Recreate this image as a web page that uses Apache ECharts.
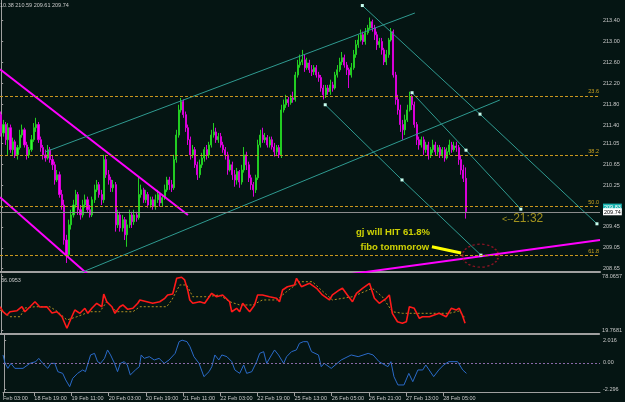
<!DOCTYPE html>
<html><head><meta charset="utf-8">
<script src="https://cdn.jsdelivr.net/npm/echarts@6/dist/echarts.min.js"></script>
<style>html,body{margin:0;padding:0;background:#051513;}#c{width:625px;height:402px;}</style>
</head><body><div id="c"></div>
<script>
// ---------- DATA ----------
const N_SLOTS = 257; // hourly slots across the visible time axis
const ohlcHeader = '10.38 210.59 209.61 209.74';
const rsiHeader = '36.0953';
// [open, close, low, high] per hourly bar
const candles = [
[211.60,211.25,211.18,211.66],[211.25,211.41,211.18,211.50],[211.41,211.12,211.02,211.46],[211.12,211.35,210.83,211.44],[211.35,210.93,210.87,211.41],[210.93,211.08,210.83,211.16],[211.08,210.83,210.77,211.12],[210.83,210.97,210.74,211.02],[210.97,211.21,210.93,211.31],[211.21,211.31,211.16,211.41],
[211.31,211.02,210.97,211.35],[211.02,210.83,210.74,211.08],[210.83,210.93,210.77,210.98],[210.93,211.12,210.89,211.21],[211.12,211.35,211.08,211.44],[211.35,211.41,211.27,211.54],[211.41,211.12,211.06,211.46],[211.12,210.97,210.89,211.18],[210.97,210.83,210.74,211.02],[210.83,210.77,210.70,210.93],
[210.77,210.93,210.74,211.02],[210.93,210.74,210.68,210.98],[210.74,210.64,210.54,210.83],[210.64,210.35,210.26,210.70],[210.35,210.45,210.31,210.54],[210.45,210.07,210.01,210.51],[210.07,209.87,209.78,210.16],[209.87,209.20,209.11,209.97],[209.20,208.92,208.76,209.30],[208.92,209.49,208.86,209.59],
[209.49,209.68,209.40,209.78],[209.68,209.87,209.63,209.97],[209.87,210.07,209.82,210.16],[210.07,209.78,209.68,210.12],[209.78,209.68,209.59,209.87],[209.68,209.87,209.63,209.97],[209.87,209.97,209.82,210.07],[209.97,209.78,209.72,210.03],[209.78,209.68,209.63,209.87],[209.68,209.97,209.64,210.03],
[209.97,210.16,209.91,210.26],[210.16,210.26,210.12,210.35],[210.26,210.07,210.01,210.31],[210.07,209.97,209.87,210.16],[209.97,210.74,209.91,210.83],[210.74,210.45,210.39,210.83],[210.45,210.35,210.26,210.54],[210.35,210.20,210.12,210.41],[210.20,210.26,210.12,210.35],[210.26,209.49,209.36,210.31],
[209.49,209.68,209.43,209.78],[209.68,209.43,209.36,209.74],[209.43,209.59,209.36,209.68],[209.59,209.30,209.20,209.64],[209.30,209.49,209.07,209.59],[209.49,209.68,209.43,209.78],[209.68,209.55,209.43,209.74],[209.55,209.68,209.49,209.78],[209.68,209.63,209.55,209.74],[209.63,210.07,209.59,210.41],
[210.07,210.16,210.01,210.26],[210.16,209.97,209.91,210.20],[209.97,210.07,209.91,210.16],[210.07,209.87,209.82,210.12],[209.87,209.97,209.82,210.03],[209.97,209.84,209.78,210.03],[209.84,209.97,209.78,210.07],[209.97,210.07,209.91,210.16],[210.07,209.91,209.84,210.12],[209.91,210.01,209.84,210.07],
[210.01,210.16,209.97,210.26],[210.16,210.35,210.12,210.41],[210.35,210.26,210.16,210.41],[210.26,210.20,210.12,210.35],[210.20,210.74,210.16,210.83],[210.74,211.21,210.68,211.31],[211.21,211.69,211.16,211.79],[211.69,211.85,211.64,211.92],[211.85,211.60,211.54,211.89],[211.60,211.35,211.27,211.66],
[211.35,211.12,211.02,211.41],[211.12,210.83,210.74,211.18],[210.83,210.93,210.77,211.02],[210.93,210.64,210.58,210.98],[210.64,210.45,210.35,210.70],[210.45,210.64,210.39,210.74],[210.64,210.77,210.58,210.87],[210.77,210.93,210.70,210.98],[210.93,210.83,210.74,211.02],[210.83,211.02,210.77,211.08],
[211.02,211.21,210.97,211.31],[211.21,211.27,211.16,211.44],[211.27,211.12,211.06,211.35],[211.12,211.18,211.06,211.25],[211.18,211.02,210.97,211.25],[211.02,210.93,210.87,211.08],[210.93,210.83,210.74,210.98],[210.83,210.54,210.45,210.89],[210.54,210.64,210.51,210.74],[210.64,210.45,210.35,210.70],
[210.45,210.35,210.22,210.54],[210.35,210.51,210.26,210.58],[210.51,210.31,210.20,210.54],[210.31,210.54,210.26,210.64],[210.54,210.83,210.49,210.98],[210.83,210.64,210.54,210.89],[210.64,210.39,210.31,210.70],[210.39,210.26,210.16,210.45],[210.26,210.16,210.03,210.31],[210.16,210.39,210.10,210.45],
[210.39,211.02,210.35,211.12],[211.02,211.21,210.97,211.31],[211.21,211.12,211.06,211.35],[211.12,211.16,211.06,211.25],[211.16,211.02,210.97,211.21],[211.02,211.12,210.97,211.18],[211.12,210.98,210.93,211.18],[210.98,210.89,210.80,211.06],[210.89,210.97,210.83,211.02],[210.97,210.83,210.77,211.02],
[210.83,211.69,210.77,211.79],[211.69,211.79,211.64,211.89],[211.79,211.89,211.73,211.98],[211.89,211.83,211.75,211.94],[211.83,211.92,211.79,211.98],[211.92,211.89,211.83,212.04],[211.89,212.36,211.85,212.42],[212.36,212.55,212.31,212.65],[212.55,212.61,212.50,212.75],[212.61,212.65,212.55,212.84],
[212.65,212.50,212.42,212.75],[212.50,212.59,212.46,212.69],[212.59,212.46,212.40,212.65],[212.46,212.42,212.34,212.55],[212.42,212.50,212.36,212.55],[212.50,212.36,212.31,212.55],[212.36,212.31,212.23,212.42],[212.31,212.11,212.04,212.36],[212.11,211.98,211.89,212.17],[211.98,212.11,211.92,212.17],
[212.11,212.04,211.98,212.17],[212.04,212.17,211.98,212.27],[212.17,212.11,212.04,212.23],[212.11,212.36,212.08,212.42],[212.36,212.46,212.31,212.55],[212.46,212.61,212.42,212.69],[212.61,212.69,212.55,212.80],[212.69,212.55,212.50,212.75],[212.55,212.46,212.36,212.61],[212.46,212.36,212.11,212.50],
[212.36,212.50,212.31,212.59],[212.50,212.75,212.46,212.84],[212.75,212.94,212.69,213.03],[212.94,213.03,212.88,213.13],[213.03,213.13,213.00,213.23],[213.13,213.00,212.94,213.19],[213.00,213.17,212.94,213.26],[213.17,213.26,213.13,213.32],[213.26,213.38,213.23,213.46],[213.38,213.26,213.19,213.42],
[213.26,213.13,213.03,213.32],[213.13,212.94,212.84,213.19],[212.94,213.00,212.88,213.07],[213.00,212.84,212.75,213.07],[212.84,212.61,212.55,212.88],[212.61,212.75,212.55,212.84],[212.75,213.03,212.69,213.07],[213.03,213.19,213.00,213.26],[213.19,212.36,212.31,213.23],[212.36,211.89,211.79,212.42],
[211.89,211.69,211.60,211.98],[211.69,211.41,211.27,211.79],[211.41,211.31,211.12,211.50],[211.31,211.50,211.21,211.60],[211.50,211.69,211.46,211.79],[211.69,211.94,211.66,212.04],[211.94,211.79,211.69,211.98],[211.79,211.41,211.35,211.85],[211.41,211.12,211.02,211.46],[211.12,211.02,210.93,211.18],
[211.02,211.12,210.97,211.18],[211.12,210.93,210.83,211.18],[210.93,211.02,210.87,211.08],[211.02,210.83,210.74,211.08],[210.83,210.93,210.77,210.98],[210.93,211.02,210.87,211.12],[211.02,210.89,210.83,211.08],[210.89,210.97,210.83,211.02],[210.97,210.83,210.77,211.02],[210.83,210.93,210.77,210.98],
[210.93,210.77,210.70,210.98],[210.77,210.89,210.74,210.97],[210.89,211.02,210.83,211.12],[211.02,210.93,210.87,211.08],[210.93,211.00,210.89,211.08],[211.00,210.97,210.89,211.08],[210.97,210.74,210.64,211.02],[210.74,210.54,210.45,210.83],[210.54,210.38,210.31,210.64],[210.38,209.74,209.61,210.59]
];
// oscillator (red) and its dotted signal: [bar index, value]
const rsiLine = [[-0.5,44.9],[0.8,39.5],[2.5,35.9],[3.8,39.5],[6.8,40.6],[8.9,44.9],[10.2,39.5],[12.3,44.6],[14.5,50.3],[16.6,44.6],[19.6,44.9],[21.8,38.1],[23.9,39.5],[26.1,34.1],[28.2,21.6],[30.3,34.1],[31.6,41.4],[33.8,37.8],[35.9,43.2],[37.2,37.8],[38.9,43.2],[41.0,48.6],[43.2,44.9],[44.0,58.6],[45.3,50.3],[47.5,44.9],[48.8,37.8],[50.9,44.9],[52.2,46.8],[54.3,42.1],[56.5,43.2],[58.6,48.6],[59.5,52.2],[62.5,50.3],[65.0,48.6],[68.0,50.3],[70.2,54.0],[71.4,57.6],[73.6,58.6],[75.3,75.6],[77.4,76.7],[78.7,73.8],[80.0,63.0],[80.9,52.2],[82.2,48.6],[85.2,50.3],[87.3,48.6],[90.3,59.4],[92.4,55.7],[95.0,57.6],[98.0,50.3],[98.9,39.5],[101.0,43.2],[102.3,39.5],[103.6,48.6],[105.3,43.2],[106.6,39.5],[108.7,46.8],[110.0,57.6],[112.1,57.6],[115.1,55.7],[118.1,54.0],[119.4,50.3],[120.7,63.0],[122.8,66.5],[125.8,68.4],[126.7,75.6],[128.8,66.5],[132.3,70.2],[135.3,64.8],[137.8,57.6],[140.8,52.2],[142.1,57.6],[145.1,63.0],[146.4,64.8],[148.5,57.6],[150.7,50.3],[152.4,59.4],[155.0,64.8],[158.0,70.2],[160.1,54.0],[162.2,48.6],[165.2,54.0],[166.5,57.6],[167.8,37.8],[170.0,28.7],[172.1,27.0],[173.8,28.7],[175.1,44.9],[177.2,43.2],[179.4,32.4],[180.7,34.1],[183.7,34.1],[185.8,36.0],[187.9,37.8],[190.9,34.1],[193.1,43.2],[195.2,41.4],[196.5,43.2],[197.8,36.0],[199.0,27.0]];
const rsiSignal = [[-0.5,41.4],[3.8,34.1],[8.1,34.1],[10.2,43.5],[14.5,44.9],[20.9,44.9],[24.3,39.5],[28.2,30.6],[32.5,34.1],[38.0,39.5],[42.3,39.5],[45.3,50.3],[49.6,39.5],[56.5,39.5],[59.5,44.9],[71.0,44.9],[73.2,52.2],[76.6,68.4],[79.6,68.4],[82.2,55.7],[88.2,55.7],[93.7,57.6],[98.0,50.3],[102.3,46.8],[107.9,46.8],[112.1,52.2],[118.1,52.2],[122.4,61.1],[128.0,71.9],[133.5,71.9],[136.5,64.8],[142.1,52.2],[150.7,55.7],[159.2,64.8],[163.5,55.7],[167.8,39.5],[172.1,37.8],[178.1,37.8],[184.9,37.8],[192.2,37.8],[196.5,40.3],[199.0,32.7]];
// momentum (blue): [bar index, value]
const momentum = [[-0.5,0.70],[0.4,-0.03],[1.6,-0.48],[2.9,-0.04],[4.6,-0.48],[8.1,-0.48],[8.9,-0.56],[11.1,-0.04],[13.6,0.11],[14.9,0.40],[16.6,-0.04],[18.8,-0.48],[20.1,-0.04],[21.8,-0.04],[23.1,-0.77],[25.2,-0.92],[26.5,-1.50],[28.2,-2.09],[29.5,-1.36],[31.6,-0.92],[33.8,-0.62],[35.0,-0.77],[37.2,0.70],[38.9,0.84],[40.2,0.11],[41.5,-0.04],[43.2,0.40],[44.5,1.14],[45.8,0.70],[47.5,-0.04],[48.8,-0.77],[50.0,-0.04],[51.7,0.11],[53.0,-0.18],[54.3,-1.06],[56.5,-0.62],[58.2,-0.33],[59.0,0.70],[60.3,0.40],[62.5,0.55],[64.6,0.26],[66.7,0.40],[68.9,-0.04],[71.0,0.26],[73.6,0.84],[75.3,1.87],[76.6,2.00],[78.7,1.87],[80.0,1.43],[81.7,0.55],[83.9,-0.04],[86.0,-1.21],[88.2,-0.77],[89.4,-0.33],[90.7,0.70],[92.4,0.26],[93.7,0.70],[95.9,0.55],[98.0,0.11],[99.3,-0.62],[101.4,-0.92],[103.1,-0.18],[104.4,-0.92],[106.6,-0.77],[108.7,0.11],[110.0,0.84],[111.7,0.99],[113.0,-0.04],[115.1,0.70],[116.4,1.14],[118.1,0.70],[120.3,-0.04],[121.6,0.55],[123.7,0.99],[125.8,1.14],[127.1,1.72],[128.8,1.87],[130.6,1.87],[132.3,0.99],[135.3,0.70],[136.5,-0.33],[137.8,-0.04],[140.8,-0.48],[145.1,0.26],[149.4,0.70],[152.4,0.55],[156.7,0.84],[158.8,0.70],[161.4,0.11],[165.2,-0.33],[166.5,0.11],[167.8,-1.21],[169.5,-1.94],[172.1,-1.94],[174.2,-0.92],[175.9,-1.65],[178.1,-0.62],[180.2,-0.62],[181.5,-0.18],[184.9,-1.21],[187.1,-0.62],[189.2,-0.18],[191.4,0.11],[195.2,0.11],[197.4,-0.62],[199.0,-0.92]];
// axis ticks
const timeTicks = [[-0.5,'Feb 03:00'],[13,'18 Feb 19:00'],[29,'19 Feb 11:00'],[45,'20 Feb 03:00'],[61,'20 Feb 19:00'],[77,'21 Feb 11:00'],[93,'22 Feb 03:00'],[109,'22 Feb 19:00'],[125,'25 Feb 13:00'],[141,'26 Feb 05:00'],[157,'26 Feb 21:00'],[173,'27 Feb 13:00'],[189,'28 Feb 05:00']];
const priceTicks = [213.40,213.00,212.60,212.20,211.80,211.40,211.05,210.65,210.25,209.83,209.74,209.45,209.05,208.65];
const rsiTicks = [78.0657, 19.7681];
const momTicks = [2.016, 0, -2.296];
const momTickText = ['2.016','0.00','-2.296'];
const bidPrice = 209.74, askPrice = 209.83;
const fiboLevels = [['23.6',211.96],['38.2',210.82],['50.0',209.85],['61.8',208.91]];
// drawn objects, anchors as [bar index, price]
const magentaUpper = [[-0.5,212.47],[80.0,209.68]];
const magentaLower = [[-0.5,210.02],[40.2,208.42]];
const magentaSupport = [[148.5,208.54],[256.5,209.20]];
const channelUpper = [[18.8,210.885],[177.2,213.547]];
const channelLower = [[33.8,208.567],[213.6,211.881]];
const pitchA = [[154.7,213.69],[205.1,211.61],[255.2,209.51]];
const pitchB = [[138.8,211.79],[171.7,210.35],[205.5,208.91]];
const pitchC = [[176.0,212.02],[199.1,210.92],[222.6,209.79]];
const noteLines = [['gj will HIT 61.8%',152.0,209.35],['fibo tommorow',153.9,209.06]];
const timerNote = ['<--','21:32',214.5,209.60];
const arrowFrom = [184.5,209.07], arrowTo = [197.0,208.95];
const targetCircle = [205.3,208.90];

// ---------- CHART ----------
const FONT = '"Liberation Sans", Arial, sans-serif';
const AX = '#a0a0a0', TXT = '#c8c8c8';
const slots = Array.from({length: N_SLOTS}, (_, i) => i);
const chart = echarts.init(document.getElementById('c'));
function hiddenX(g){return {type:'value',gridIndex:g,min:-0.5,max:N_SLOTS-0.5,splitLine:{show:false},axisLabel:{show:false},axisTick:{show:false},axisLine:{show:false,onZero:false}};}
function trend(data,color,width,dots){
  return {type:'line',xAxisIndex:1,yAxisIndex:0,data:data,silent:true,z:4,
    symbol:dots?'rect':'none',symbolSize:3,showSymbol:!!dots,showAllSymbol:true,
    itemStyle:{color:'#c8fff0'},lineStyle:{color:color,width:width}};
}
const option = {
  backgroundColor:'#051513',
  animation:false,
  textStyle:{fontFamily:FONT},
  title:[
    {text:ohlcHeader,left:0,top:2,padding:0,textStyle:{fontSize:5.5,color:TXT,fontWeight:'normal',fontFamily:FONT}},
    {text:rsiHeader,left:1,top:277,padding:0,textStyle:{fontSize:5.5,color:TXT,fontWeight:'normal',fontFamily:FONT}}
  ],
  grid:[
    {left:0,right:25,top:0,height:272},
    {left:0,right:25,top:274,height:60},
    {left:0,right:25,top:335,height:57}
  ],
  xAxis:[
    {type:'category',gridIndex:0,data:slots,boundaryGap:true,axisLabel:{show:false},axisTick:{show:false},
     axisLine:{show:true,onZero:false,lineStyle:{color:AX,width:2}}},
    hiddenX(0),
    Object.assign(hiddenX(1),{axisLine:{show:true,onZero:false,lineStyle:{color:AX,width:2}}}),
    Object.assign(hiddenX(2),{
      axisLine:{show:true,onZero:false,lineStyle:{color:AX,width:1}},
      axisTick:{show:true,length:4,inside:false,customValues:timeTicks.map(t=>t[0]),lineStyle:{color:AX}},
      axisLabel:{show:true,customValues:timeTicks.map(t=>t[0]),align:'left',margin:3,fontSize:5.5,color:TXT,
        formatter:v=>{const t=timeTicks.find(t=>Math.abs(t[0]-v)<1e-6);return t?t[1]:'';}}
    })
  ],
  yAxis:[
    {type:'value',gridIndex:0,position:'right',min:208.587,max:213.796,splitLine:{show:false},
     axisLine:{show:true,lineStyle:{color:AX}},
     axisTick:{show:true,length:2,customValues:priceTicks,lineStyle:{color:AX}},
     axisLabel:{customValues:priceTicks,fontSize:5.5,color:TXT,margin:3,
       formatter:v=>{const s=v.toFixed(2);if(Math.abs(v-askPrice)<1e-6)return '{ask|'+s+'}';if(Math.abs(v-bidPrice)<1e-6)return '{bid|'+s+'}';return s;},
       rich:{ask:{backgroundColor:'#19b4b0',color:'#ffffff',fontSize:5.5,padding:[1,1,0,1]},
             bid:{backgroundColor:'#ffffff',color:'#000000',fontSize:5.5,padding:[1,1,0,1]}}}},
    {type:'value',gridIndex:1,position:'right',min:15.45,max:80.23,splitLine:{show:false},
     axisLine:{show:true,lineStyle:{color:AX}},
     axisTick:{show:true,length:2,customValues:rsiTicks,lineStyle:{color:AX}},
     axisLabel:{customValues:rsiTicks,fontSize:5.5,color:TXT,margin:3,formatter:v=>v.toFixed(4)}},
    {type:'value',gridIndex:2,position:'right',min:-2.56,max:2.456,splitLine:{show:false},
     axisLine:{show:true,lineStyle:{color:AX}},
     axisTick:{show:true,length:2,customValues:momTicks,lineStyle:{color:AX}},
     axisLabel:{customValues:momTicks,fontSize:5.5,color:TXT,margin:3,
       formatter:v=>{const k=momTicks.findIndex(t=>Math.abs(t-v)<1e-6);return k>=0?momTickText[k]:'';}}}
  ],
  series:[
    {type:'line',xAxisIndex:1,yAxisIndex:0,data:[],silent:true,
     markLine:{symbol:'none',silent:true,animation:false,
       data:fiboLevels.map(f=>({name:f[0],yAxis:f[1],lineStyle:{color:'#c8961e',type:[3,2],width:1},
         label:{show:true,formatter:'{b}',position:'insideEndTop',distance:1,color:'#c8a020',fontSize:5.5}}))
         .concat([{name:'bid',yAxis:bidPrice,lineStyle:{color:'#8c8c8c',type:'solid',width:1},label:{show:false}}])}},
    {type:'candlestick',xAxisIndex:0,yAxisIndex:0,data:candles,barWidth:1.6,z:2,
     itemStyle:{color:'#33ff33',color0:'#ff00ff',borderColor:'#22cc22',borderColor0:'#d800d8',borderWidth:1}},
    trend(magentaUpper,'#ff00ff',2,false),
    trend(magentaLower,'#ff00ff',2,false),
    trend(magentaSupport,'#ff00ff',2,false),
    trend(channelUpper,'#2f9a90',1,false),
    trend(channelLower,'#2f9a90',1,false),
    trend(pitchA,'#2f9a90',1,true),
    trend(pitchB,'#2f9a90',1,true),
    trend(pitchC,'#2f9a90',1,true),
    {type:'scatter',xAxisIndex:1,yAxisIndex:0,silent:true,z:6,symbol:'path://M0,50 A50,50 0 1 0 100,50 A50,50 0 1 0 0,50 Z',
     symbolSize:[36,23],data:[targetCircle],
     itemStyle:{color:'rgba(0,0,0,0)',borderColor:'#b01428',borderWidth:1.5,borderType:[2,2]}},
    {type:'scatter',xAxisIndex:1,yAxisIndex:0,silent:true,z:7,symbolSize:0,
     data:noteLines.map(n=>({value:[n[1],n[2]],label:{show:true,position:'right',distance:0,formatter:n[0],
        color:'#ffff00',fontSize:9.5,fontWeight:'bold',fontFamily:FONT}}))
       .concat([{value:[timerNote[2],timerNote[3]],label:{show:true,position:'right',distance:0,
        formatter:'{a|'+timerNote[0]+'}{b|'+timerNote[1]+'}',
        rich:{a:{fontSize:9,color:'#c8b020',fontFamily:FONT},b:{fontSize:12,color:'#c8b020',fontFamily:FONT}}}}]),
     markLine:{silent:true,symbol:['none','arrow'],symbolSize:[0,10],animation:false,
       lineStyle:{color:'#ffff00',width:3,type:'solid'},label:{show:false},
       data:[[{coord:arrowFrom},{coord:arrowTo}]]}},
    {type:'line',xAxisIndex:2,yAxisIndex:1,data:rsiSignal,symbol:'none',silent:true,
     lineStyle:{color:'#b09020',width:1,type:[2,2]}},
    {type:'line',xAxisIndex:2,yAxisIndex:1,data:rsiLine,symbol:'none',silent:true,
     lineStyle:{color:'#ff1a1a',width:1.6}},
    {type:'line',xAxisIndex:3,yAxisIndex:2,data:momentum,symbol:'none',silent:true,
     lineStyle:{color:'#2a6ac8',width:1},
     markLine:{symbol:'none',silent:true,animation:false,label:{show:false},
       data:[{yAxis:0}],lineStyle:{color:'#8a6aa8',type:[2,2],width:1}}}
  ]
};
chart.setOption(option);
</script>
</body></html>
